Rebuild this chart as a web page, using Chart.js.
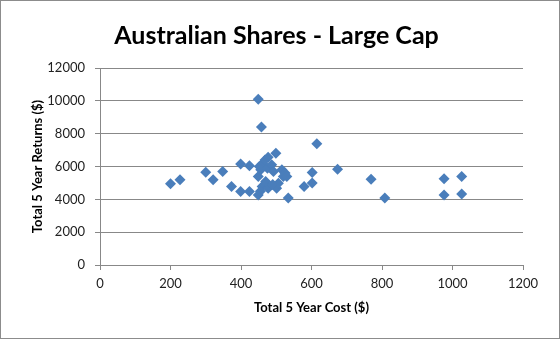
<!DOCTYPE html>
<html>
<head>
<meta charset="utf-8">
<script src="https://cdn.jsdelivr.net/npm/chart.js@4"></script>
<style>
  body { margin: 0; background: #fff; }
  #wrap { width: 560px; height: 339px; box-sizing: border-box; border: 1px solid #8c8c8c; }
</style>
</head>
<body>
<div id="wrap"><canvas id="chart" width="558" height="337"></canvas></div>
<script>
// Data
const cost = [200, 227, 300, 321, 348, 373, 399, 399, 424, 424,
              449, 458, 449, 449, 452, 460, 468, 477, 499, 456,
              475, 487, 492, 516, 525, 520, 530, 460, 477, 501,
              506, 470, 455, 490, 534, 579, 602, 602, 615, 674,
              769, 808, 976, 976, 1026, 1026];
const returns = [4950, 5200, 5650, 5190, 5690, 4780, 4480, 6150, 4480, 6040,
                 10100, 8400, 4270, 5390, 6000, 6150, 6400, 6570, 6810, 5800,
                 5900, 6100, 5700, 5800, 5600, 5390, 5390, 4780, 4680, 4680,
                 4985, 5085, 4500, 4900, 4080, 4780, 5630, 5000, 7380, 5840,
                 5230, 4080, 5250, 4270, 5390, 4330];
const xTicks = [0, 200, 400, 600, 800, 1000, 1200];
const yTicks = [0, 2000, 4000, 6000, 8000, 10000, 12000];

const pts = cost.map((c, i) => ({ x: c, y: returns[i] }));
const gridCol = '#888888';
const plain = v => String(v);

new Chart(document.getElementById('chart'), {
  type: 'scatter',
  data: {
    datasets: [{
      data: pts,
      pointStyle: 'rectRot',
      pointRadius: 5.5,
      pointBackgroundColor: '#4a7ebb',
      pointBorderColor: '#4a7ebb',
      pointBorderWidth: 0
    }]
  },
  options: {
    responsive: false,
    animation: false,
    layout: { padding: { left: 29, right: 36, top: 0, bottom: 22 } },
    plugins: {
      legend: { display: false },
      tooltip: { enabled: false },
      title: {
        display: true,
        text: 'Australian Shares - Large Cap',
        color: '#000',
        font: { family: 'Lato', size: 25, weight: 'bold' },
        padding: { top: 20, bottom: 17 }
      }
    },
    scales: {
      x: {
        type: 'linear', min: 0, max: 1200,
        afterBuildTicks: s => { s.ticks = xTicks.map(v => ({ value: v })); },
        afterFit: s => { s.height = 51; },
        grid: { drawOnChartArea: false, color: gridCol, tickLength: 5 },
        border: { color: gridCol },
        ticks: { color: '#222', padding: 6, callback: plain, font: { family: 'Lato', size: 13 } },
        title: {
          display: true, text: 'Total 5 Year Cost ($)', color: '#000',
          font: { family: 'Lato', size: 13, weight: 'bold' }, padding: 0
        }
      },
      y: {
        type: 'linear', min: 0, max: 12000,
        afterBuildTicks: s => { s.ticks = yTicks.map(v => ({ value: v })); },
        afterFit: s => { s.width = 70; },
        grid: { color: gridCol, tickLength: 5 },
        border: { color: gridCol },
        ticks: { color: '#222', padding: 10, callback: plain, font: { family: 'Lato', size: 13 } },
        title: {
          display: true, text: 'Total 5 Year Returns ($)', color: '#000',
          font: { family: 'Lato', size: 13, weight: 'bold' }, padding: 0
        }
      }
    }
  }
});
</script>
</body>
</html>
